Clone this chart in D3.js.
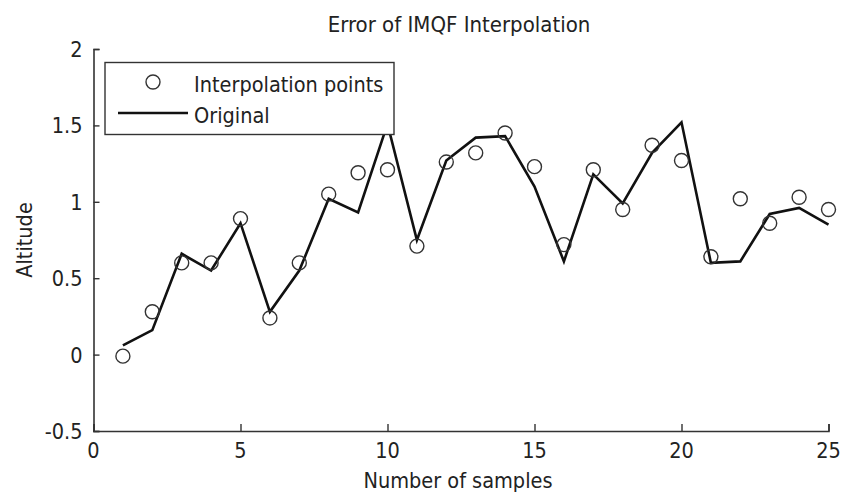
<!DOCTYPE html>
<html>
<head>
<meta charset="utf-8">
<script src="https://cdn.jsdelivr.net/npm/d3@7"></script>
<style>
  html, body { margin: 0; padding: 0; background: #fff; }
  svg { display: block; }
  text { font-family: "DejaVu Sans Condensed", "Liberation Sans", Arial, sans-serif; fill: #222; }
</style>
</head>
<body>
<svg id="chart" width="844" height="497"></svg>
<script>
// Sample index 1..25
const samples = d3.range(1, 26);
// Altitude at the interpolation points (circles)
const interpolated = [-0.01, 0.28, 0.60, 0.60, 0.89, 0.24, 0.60, 1.05, 1.19, 1.21,
                      0.71, 1.26, 1.32, 1.45, 1.23, 0.72, 1.21, 0.95, 1.37, 1.27,
                      0.64, 1.02, 0.86, 1.03, 0.95];
// Original altitude profile (solid line)
const original = [0.06, 0.16, 0.66, 0.55, 0.86, 0.28, 0.55, 1.02, 0.93, 1.51,
                  0.75, 1.27, 1.42, 1.43, 1.10, 0.61, 1.18, 0.99, 1.32, 1.52,
                  0.60, 0.61, 0.92, 0.96, 0.85];
const xTicks = [0, 5, 10, 15, 20, 25];
const yTicks = [-0.5, 0, 0.5, 1, 1.5, 2];

const svg = d3.select("#chart");
const plotLeft = 93.5, plotRight = 828.5, plotTop = 49, plotBottom = 431;
const fs = 21.5;

const x = d3.scaleLinear().domain([0, 25]).range([plotLeft, plotRight]);
const y = d3.scaleLinear().domain([-0.5, 2]).range([plotBottom, plotTop]);

// Axes with inward ticks
const xAxis = svg.append("g").attr("transform", `translate(0,${plotBottom})`)
  .call(d3.axisTop(x).tickValues(xTicks).tickSize(7).tickFormat(""));
const yAxis = svg.append("g").attr("transform", `translate(${plotLeft},0)`)
  .call(d3.axisRight(y).tickValues(yTicks).tickSize(6).tickFormat(""));
[xAxis, yAxis].forEach(g => {
  g.selectAll("path").attr("stroke", "#333").attr("stroke-width", 1.6);
  g.selectAll("line").attr("stroke", "#333").attr("stroke-width", 1.4);
});

// Tick labels
svg.append("g").selectAll("text").data(xTicks).join("text")
  .attr("x", d => x(d)).attr("y", 458)
  .attr("text-anchor", "middle").attr("font-size", fs)
  .text(d => String(d));
svg.append("g").selectAll("text").data(yTicks).join("text")
  .attr("x", plotLeft - 11).attr("y", d => y(d) + 8)
  .attr("text-anchor", "end").attr("font-size", fs)
  .text(d => String(d));

// Titles
svg.append("text").attr("x", 459).attr("y", 32).attr("text-anchor", "middle")
  .attr("font-size", 22).text("Error of IMQF Interpolation");
svg.append("text").attr("x", 458).attr("y", 488).attr("text-anchor", "middle")
  .attr("font-size", fs).text("Number of samples");
svg.append("text").attr("transform", `translate(32,${(plotTop + plotBottom) / 2}) rotate(-90)`)
  .attr("text-anchor", "middle").attr("font-size", fs).text("Altitude");

// Original profile
const line = d3.line().x((d, i) => x(samples[i])).y(d => y(d));
svg.append("path").datum(original)
  .attr("d", line).attr("fill", "none")
  .attr("stroke", "#111").attr("stroke-width", 2.6).attr("stroke-linejoin", "miter");

// Interpolation points
svg.append("g").selectAll("circle").data(interpolated).join("circle")
  .attr("cx", (d, i) => x(samples[i])).attr("cy", d => y(d)).attr("r", 7)
  .attr("fill", "none").attr("stroke", "#333").attr("stroke-width", 1.4);

// Legend
const lg = svg.append("g");
lg.append("rect").attr("x", 105).attr("y", 62.5).attr("width", 289).attr("height", 72)
  .attr("fill", "#fff").attr("stroke", "#333").attr("stroke-width", 1.4);
lg.append("circle").attr("cx", 153).attr("cy", 82).attr("r", 7)
  .attr("fill", "none").attr("stroke", "#333").attr("stroke-width", 1.4);
lg.append("line").attr("x1", 118).attr("x2", 188).attr("y1", 113).attr("y2", 113)
  .attr("stroke", "#111").attr("stroke-width", 2.6);
lg.append("text").attr("x", 194).attr("y", 92).attr("font-size", fs).text("Interpolation points");
lg.append("text").attr("x", 194).attr("y", 123).attr("font-size", fs).text("Original");
</script>
</body>
</html>
